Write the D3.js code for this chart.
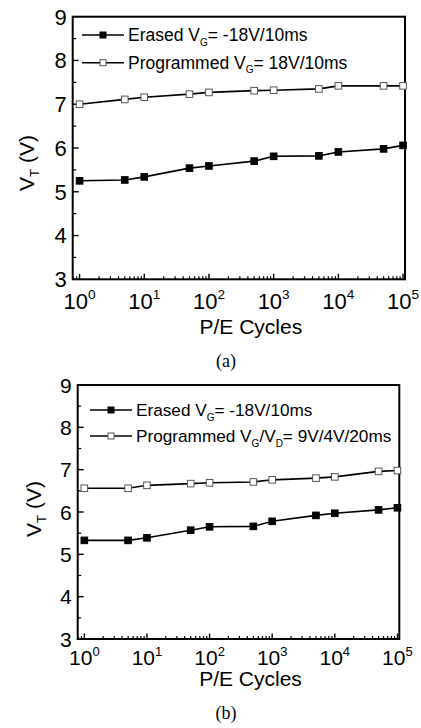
<!DOCTYPE html>
<html lang="en">
<head>
    <meta charset="UTF-8">
    <title>VT vs P/E Cycles</title>
    <script src="https://cdn.jsdelivr.net/npm/d3@7/dist/d3.min.js"></script>
    <style>
        body{
            margin: 0;
            background: #fff;
            font-family: "Liberation Sans", Arial, sans-serif;
        }
    </style>
</head>
<body>
<svg id="main" width="421" height="728"></svg>
<script>

    // data
    const cycles = [1, 5, 10, 50, 100, 500, 1000, 5000, 10000, 50000, 100000];
    const erasedA = [5.25, 5.27, 5.34, 5.54, 5.59, 5.70, 5.81, 5.82, 5.91, 5.98, 6.06];
    const programmedA = [7.00, 7.11, 7.16, 7.23, 7.27, 7.31, 7.32, 7.35, 7.42, 7.42, 7.42];
    const erasedB = [5.33, 5.33, 5.39, 5.57, 5.65, 5.66, 5.78, 5.92, 5.97, 6.05, 6.10];
    const programmedB = [6.56, 6.56, 6.63, 6.67, 6.69, 6.71, 6.76, 6.80, 6.83, 6.96, 6.98];
    const yTicks = [3, 4, 5, 6, 7, 8, 9];
    const xTicks = [1, 10, 100, 1000, 10000, 100000];
    const xTickExp = ['0', '1', '2', '3', '4', '5'];

    const panels = [
        {
            box: {left: 72.7, top: 16.7, right: 405, bottom: 279.3},
            erased: erasedA, programmed: programmedA,
            legend: {x: 82, y: 35, dy: 27.7, font: 17.5},
            legendText: [
                [['Erased V', 0], ['G', 1], ['= -18V/10ms', 0]],
                [['Programmed V', 0], ['G', 1], ['= 18V/10ms', 0]]
            ],
            tickFont: 22, xLabelDy: 30, yLabel: {x: 26, y: 163},
            xTitleY: 334, caption: '(a)', captionY: 367
        },
        {
            box: {left: 77.7, top: 385, right: 399.3, bottom: 639},
            erased: erasedB, programmed: programmedB,
            legend: {x: 90, y: 410, dy: 26, font: 17.2},
            legendText: [
                [['Erased V', 0], ['G', 1], ['= -18V/10ms', 0]],
                [['Programmed V', 0], ['G', 1], ['/V', 0], ['D', 1], ['= 9V/4V/20ms', 0]]
            ],
            tickFont: 21, xLabelDy: 26, yLabel: {x: 33, y: 509},
            xTitleY: 686, caption: '(b)', captionY: 719
        }
    ];

    const svg = d3.select('svg#main');

    panels.forEach(p => {
        const b = p.box;
        const g = svg.append('g');

        const xScale = d3.scaleLog()
            .domain([Math.pow(10, -0.106), Math.pow(10, 5.03)])
            .range([b.left, b.right]);
        const yScale = d3.scaleLinear()
            .domain([3, 9])
            .range([b.bottom, b.top]);

        // minor ticks on the log axis
        const minor = [];
        for (let e = -1; e <= 5; e++) {
            for (let m = 2; m <= 9; m++) {
                const v = m * Math.pow(10, e);
                if (v >= xScale.domain()[0] && v <= xScale.domain()[1]) minor.push(v);
            }
        }
        g.selectAll('.xminor').data(minor).enter().append('line')
            .attr('x1', d => xScale(d)).attr('x2', d => xScale(d))
            .attr('y1', b.bottom).attr('y2', b.bottom - 3)
            .attr('stroke', '#000').attr('stroke-width', 1.2);
        g.selectAll('.xmajor').data(xTicks).enter().append('line')
            .attr('x1', d => xScale(d)).attr('x2', d => xScale(d))
            .attr('y1', b.bottom).attr('y2', b.bottom - 5.5)
            .attr('stroke', '#000').attr('stroke-width', 1.4);

        const yMinor = d3.range(3.5, 9, 1);
        g.selectAll('.yminor').data(yMinor).enter().append('line')
            .attr('x1', b.left).attr('x2', b.left + 3.5)
            .attr('y1', d => yScale(d)).attr('y2', d => yScale(d))
            .attr('stroke', '#000').attr('stroke-width', 1.2);
        g.selectAll('.ymajor').data(yTicks).enter().append('line')
            .attr('x1', b.left).attr('x2', b.left + 6)
            .attr('y1', d => yScale(d)).attr('y2', d => yScale(d))
            .attr('stroke', '#000').attr('stroke-width', 1.4);

        // frame
        g.append('rect')
            .attr('x', b.left).attr('y', b.top)
            .attr('width', b.right - b.left).attr('height', b.bottom - b.top)
            .attr('fill', 'none').attr('stroke', '#000').attr('stroke-width', 2);

        // tick labels
        g.selectAll('.ylab').data(yTicks).enter().append('text')
            .attr('x', b.left - 6).attr('y', d => yScale(d))
            .attr('dy', '0.36em')
            .attr('text-anchor', 'end')
            .attr('font-size', p.tickFont)
            .text(d => d);

        const xl = g.selectAll('.xlab').data(xTicks).enter().append('text')
            .attr('x', d => xScale(d)).attr('y', b.bottom + p.xLabelDy)
            .attr('text-anchor', 'middle')
            .attr('font-size', p.tickFont);
        xl.append('tspan').text('10');
        xl.append('tspan')
            .attr('font-size', p.tickFont * 0.62)
            .attr('dy', -p.tickFont * 0.45)
            .text((d, i) => xTickExp[i]);

        // axis titles
        const yt = g.append('text')
            .attr('transform', `translate(${p.yLabel.x},${p.yLabel.y}) rotate(-90)`)
            .attr('text-anchor', 'middle')
            .attr('dy', '0.36em')
            .attr('font-size', 21);
        yt.append('tspan').text('V');
        yt.append('tspan').attr('font-size', 13).attr('dy', 5).text('T');
        yt.append('tspan').attr('dy', -5).text(' (V)');

        g.append('text')
            .attr('x', (b.left + b.right) / 2 + 12).attr('y', p.xTitleY)
            .attr('text-anchor', 'middle')
            .attr('font-size', 21)
            .text('P/E Cycles');

        g.append('text')
            .attr('x', 226).attr('y', p.captionY)
            .attr('text-anchor', 'middle')
            .attr('font-family', '"Liberation Serif", "Times New Roman", serif')
            .attr('font-size', 18)
            .text(p.caption);

        // lines and markers
        const line = d3.line()
            .x((d, i) => xScale(cycles[i]))
            .y(d => yScale(d));

        const series = [
            {values: p.programmed, fill: '#fff', stroke: '#555'},
            {values: p.erased, fill: '#000', stroke: '#000'}
        ];
        series.forEach(s => {
            g.append('path')
                .attr('d', line(s.values))
                .attr('fill', 'none')
                .attr('stroke', '#000')
                .attr('stroke-width', 1.6);
            g.selectAll('.pt').data(s.values).enter().append('rect')
                .attr('x', (d, i) => xScale(cycles[i]) - 3.3)
                .attr('y', d => yScale(d) - 3.3)
                .attr('width', 6.6).attr('height', 6.6)
                .attr('fill', s.fill)
                .attr('stroke', s.stroke)
                .attr('stroke-width', 1);
        });

        // legend
        const lg = p.legend;
        [{fill: '#000', stroke: '#000'}, {fill: '#fff', stroke: '#555'}].forEach((m, k) => {
            const y = lg.y + k * lg.dy;
            g.append('line')
                .attr('x1', lg.x).attr('x2', lg.x + 42)
                .attr('y1', y).attr('y2', y)
                .attr('stroke', '#000').attr('stroke-width', 1.6);
            g.append('rect')
                .attr('x', lg.x + 21 - 3).attr('y', y - 3)
                .attr('width', 6).attr('height', 6)
                .attr('fill', m.fill).attr('stroke', m.stroke).attr('stroke-width', 1);
            const t = g.append('text')
                .attr('x', lg.x + 46).attr('y', y + 6)
                .attr('font-size', lg.font);
            let shift = 0;
            p.legendText[k].forEach(part => {
                const sub = part[1] === 1;
                const dy = sub ? 4.5 : -shift;
                shift = sub ? 4.5 : 0;
                t.append('tspan')
                    .attr('dy', dy)
                    .attr('font-size', sub ? 10 : lg.font)
                    .text(part[0]);
            });
        });
    });

</script>
</body>
</html>
